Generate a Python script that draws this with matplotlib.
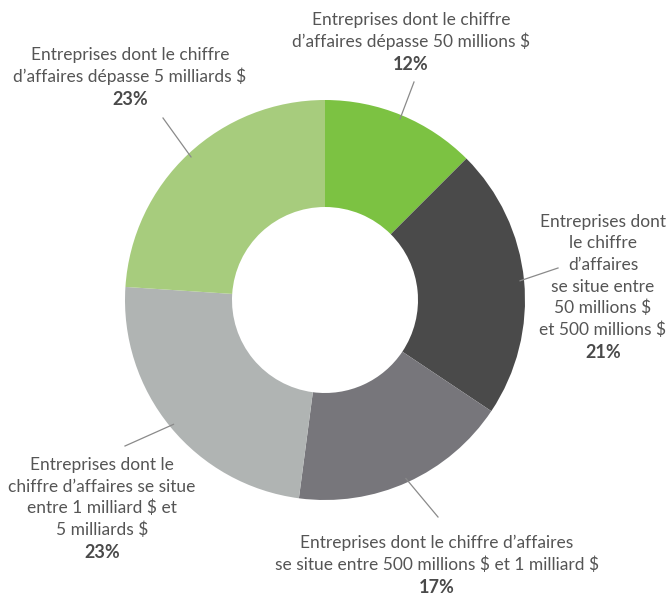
import numpy as np
import matplotlib.pyplot as plt

labels = [
    ["Entreprises dont le chiffre", "d\u2019affaires dépasse 50 millions $"],
    ["Entreprises dont", "le chiffre", "d\u2019affaires", "se situe entre",
     "50 millions $", "et 500 millions $"],
    ["Entreprises dont le chiffre d\u2019affaires",
     "se situe entre 500 millions $ et 1 milliard $"],
    ["Entreprises dont le", "chiffre d\u2019affaires se situe",
     "entre 1 milliard $ et", "5 milliards $"],
    ["Entreprises dont le chiffre", "d\u2019affaires dépasse 5 milliards $"],
]
shares = [12, 21, 17, 23, 23]
colors = ["#7cc242", "#4a4a4a", "#77767b", "#b0b4b3", "#a7cc7d"]

# label block centre x and first-line y, leader-line ends, in pixels
text_pos = [(411, 20), (603, 222), (437, 543), (102, 465), (130, 55)]
line_end = [(414, 82), (558, 268), (438, 517), (125, 446), (163, 118)]
step = 21.5

W, H = 672, 595
cx, cy, R, r_in = 325, 300, 200, 93

plt.rcParams['font.family'] = ['Lato', 'DejaVu Sans']
fig = plt.figure(figsize=(W / 100, H / 100), dpi=100)
ax = fig.add_axes([0, 0, 1, 1])

wedges, _ = ax.pie(shares, colors=colors, startangle=90, counterclock=False,
                   radius=R, center=(cx, H - cy),
                   wedgeprops=dict(width=R - r_in, linewidth=0))
ax.set_xlim(0, W)
ax.set_ylim(0, H)
ax.set_aspect('equal')
ax.axis('off')

txt_col = "#555555"
for w, lines, val, (tx, ty), (ex, ey) in zip(wedges, labels, shares, text_pos, line_end):
    mid = np.deg2rad((w.theta1 + w.theta2) / 2)
    sx = cx + (R - 4) * np.cos(mid)
    sy = (H - cy) + (R - 4) * np.sin(mid)
    ax.plot([sx, ex], [sy, H - ey], color="#8a8a8a", lw=0.9)
    for i, line in enumerate(lines):
        ax.text(tx, H - (ty + step * i), line, ha='center', va='center',
                fontsize=12.5, color=txt_col, parse_math=False)
    ax.text(tx, H - (ty + step * len(lines) + 1.5), f"{val}%", ha='center',
            va='center', fontsize=13, fontweight='bold', color="#4a4a4a")

fig.savefig("out.png", dpi=100)
